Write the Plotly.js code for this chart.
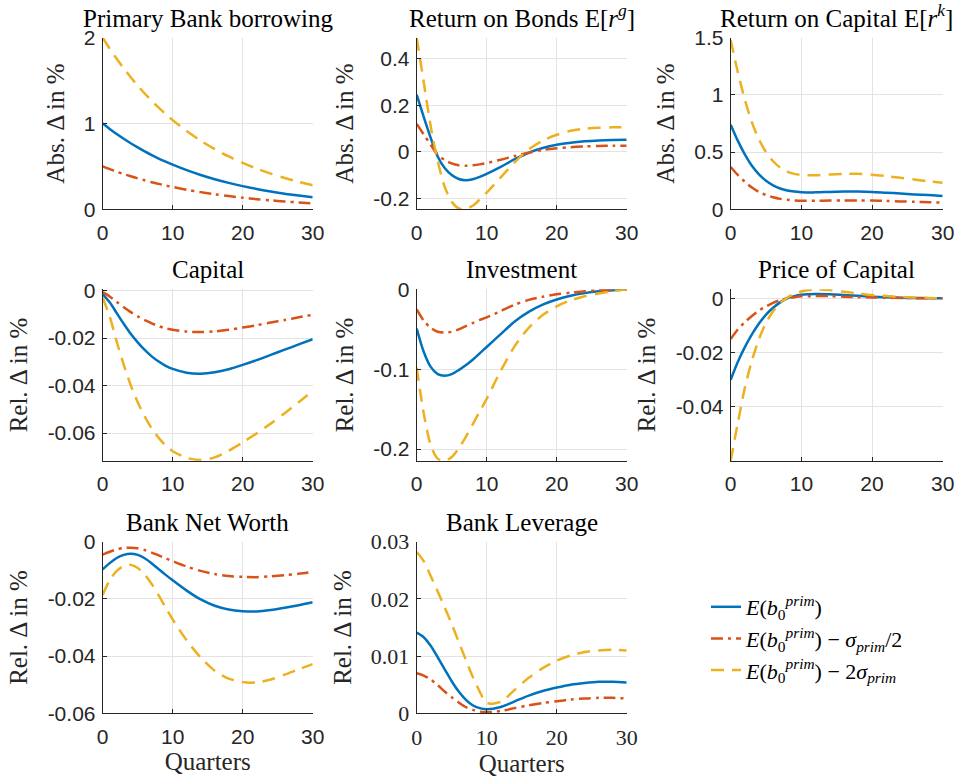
<!DOCTYPE html>
<html><head><meta charset="utf-8">
<script src="https://cdn.plot.ly/plotly-3.0.1.min.js"></script>
<style>html,body{margin:0;padding:0;background:#fff}#chart{width:964px;height:778px}</style>
</head><body><div id="chart"></div>
<script>
// ---------------- DATA ----------------
const quarters = [0,1,2,3,4,5,6,7,8,9,10,12,14,16,18,20,22,24,26,28,30];

const seriesNames = [
  '<i>E</i>(<i>b</i><sub>0</sub><sup><i>prim</i></sup>)',
  '<i>E</i>(<i>b</i><sub>0</sub><sup><i>prim</i></sup>) − <i>σ</i><sub><i>prim</i></sub>/2',
  '<i>E</i>(<i>b</i><sub>0</sub><sup><i>prim</i></sup>) − 2<i>σ</i><sub><i>prim</i></sub>'
];

const panelTitles = [
  'Primary Bank borrowing',
  'Return on Bonds E[<i>r</i><sup><i>g</i></sup>]',
  'Return on Capital E[<i>r</i><sup><i>k</i></sup>]',
  'Capital', 'Investment', 'Price of Capital',
  'Bank Net Worth', 'Bank Leverage'
];
const yLabels = ['Abs. Δ in %','Abs. Δ in %','Abs. Δ in %',
  'Rel. Δ in %','Rel. Δ in %','Rel. Δ in %','Rel. Δ in %','Rel. Δ in %'];
const xLabel = 'Quarters';

// Primary Bank borrowing
const borrowMean = [1.000,0.937,0.877,0.822,0.770,0.721,0.675,0.632,0.592,0.555,0.520,0.456,0.400,0.351,0.308,0.270,0.237,0.208,0.182,0.160,0.140];
const borrowHalf = [0.500,0.468,0.438,0.411,0.385,0.360,0.338,0.316,0.296,0.277,0.260,0.228,0.200,0.175,0.154,0.135,0.118,0.104,0.091,0.080,0.070];
const borrowTwo  = [2.000,1.873,1.754,1.643,1.539,1.442,1.350,1.264,1.184,1.109,1.039,0.912,0.800,0.702,0.616,0.540,0.474,0.416,0.365,0.320,0.281];

// Return on Bonds
const bondMean = [0.245,0.150,0.060,-0.020,-0.070,-0.100,-0.117,-0.122,-0.118,-0.108,-0.095,-0.065,-0.032,-0.004,0.016,0.030,0.039,0.045,0.049,0.051,0.052];
const bondHalf = [0.120,0.075,0.030,-0.012,-0.035,-0.050,-0.058,-0.060,-0.058,-0.054,-0.048,-0.034,-0.018,-0.004,0.008,0.015,0.020,0.023,0.025,0.026,0.026];
const bondTwo  = [0.490,0.300,0.110,-0.040,-0.150,-0.215,-0.243,-0.245,-0.232,-0.205,-0.175,-0.110,-0.045,0.010,0.048,0.073,0.090,0.099,0.103,0.105,0.105];

// Return on Capital
const rkMean = [0.740,0.600,0.480,0.380,0.305,0.250,0.210,0.182,0.165,0.155,0.150,0.148,0.152,0.155,0.155,0.152,0.145,0.138,0.130,0.124,0.117];
const rkHalf = [0.370,0.300,0.240,0.190,0.152,0.125,0.105,0.091,0.083,0.078,0.075,0.074,0.076,0.077,0.077,0.076,0.073,0.069,0.065,0.062,0.058];
const rkTwo  = [1.480,1.200,0.960,0.760,0.610,0.500,0.420,0.365,0.330,0.310,0.300,0.298,0.305,0.310,0.310,0.303,0.290,0.275,0.260,0.245,0.232];

// Capital
const capMean = [-0.0015,-0.0050,-0.0095,-0.0140,-0.0182,-0.0218,-0.0250,-0.0277,-0.0299,-0.0317,-0.0330,-0.0346,-0.0350,-0.0344,-0.0331,-0.0313,-0.0293,-0.0271,-0.0249,-0.0227,-0.0205];
const capHalf = [-0.0007,-0.0025,-0.0048,-0.0070,-0.0091,-0.0109,-0.0125,-0.0138,-0.0150,-0.0159,-0.0165,-0.0173,-0.0175,-0.0172,-0.0165,-0.0156,-0.0146,-0.0135,-0.0124,-0.0113,-0.0102];
const capTwo  = [-0.0030,-0.0110,-0.0215,-0.0312,-0.0398,-0.0470,-0.0530,-0.0580,-0.0620,-0.0652,-0.0676,-0.0704,-0.0713,-0.0702,-0.0674,-0.0639,-0.0601,-0.0560,-0.0516,-0.0470,-0.0423];

// Investment
const invMean = [-0.049,-0.078,-0.097,-0.106,-0.108,-0.106,-0.101,-0.095,-0.088,-0.080,-0.072,-0.056,-0.040,-0.028,-0.019,-0.0125,-0.0078,-0.0045,-0.0022,-0.0008,0.0];
const invHalf = [-0.025,-0.039,-0.048,-0.053,-0.054,-0.053,-0.050,-0.046,-0.042,-0.038,-0.035,-0.027,-0.019,-0.013,-0.009,-0.006,-0.004,-0.0022,-0.001,-0.0004,0.0];
const invTwo  = [-0.098,-0.155,-0.195,-0.212,-0.215,-0.210,-0.199,-0.185,-0.169,-0.153,-0.137,-0.102,-0.071,-0.048,-0.032,-0.021,-0.0135,-0.0085,-0.005,-0.002,0.0];

// Price of Capital
const qMean = [-0.0300,-0.0235,-0.0180,-0.0133,-0.0093,-0.0060,-0.0035,-0.0015,0.0000,0.0008,0.0013,0.0016,0.0015,0.0012,0.0009,0.0006,0.0004,0.0002,0.0001,0.00005,0.0];
const qHalf = [-0.0150,-0.0115,-0.0088,-0.0065,-0.0045,-0.0030,-0.0017,-0.0007,0.0000,0.0004,0.0007,0.0008,0.0008,0.0006,0.0004,0.0003,0.0002,0.0001,0.00005,0.0,0.0];
const qTwo  = [-0.0598,-0.0460,-0.0330,-0.0230,-0.0150,-0.0090,-0.0048,-0.0018,0.0002,0.0016,0.0025,0.0032,0.0030,0.0024,0.0018,0.0012,0.0008,0.0005,0.0003,0.0001,0.0];

// Bank Net Worth
const nwMean = [-0.0097,-0.0075,-0.0057,-0.0046,-0.0042,-0.0046,-0.0058,-0.0076,-0.0096,-0.0116,-0.0135,-0.0171,-0.0202,-0.0224,-0.0237,-0.0243,-0.0244,-0.0239,-0.0231,-0.0222,-0.0212];
const nwHalf = [-0.0045,-0.0035,-0.0027,-0.0022,-0.0021,-0.0023,-0.0029,-0.0038,-0.0048,-0.0058,-0.0068,-0.0087,-0.0102,-0.0113,-0.0120,-0.0123,-0.0124,-0.0121,-0.0117,-0.0112,-0.0106];
const nwTwo  = [-0.0186,-0.0135,-0.0102,-0.0085,-0.0081,-0.0092,-0.0115,-0.0148,-0.0188,-0.0231,-0.0272,-0.0345,-0.0405,-0.0451,-0.0479,-0.0491,-0.0492,-0.0482,-0.0465,-0.0446,-0.0428];

// Bank Leverage
const levMean = [0.0141,0.0133,0.0118,0.0098,0.0077,0.0056,0.0038,0.0024,0.0014,0.0009,0.0007,0.0011,0.0021,0.0031,0.0039,0.0045,0.0050,0.0053,0.0055,0.0055,0.0054];
const levHalf = [0.0070,0.0066,0.0059,0.0049,0.0038,0.0028,0.0019,0.0011,0.0006,0.0003,0.0002,0.0004,0.0009,0.0014,0.0018,0.0021,0.0024,0.0026,0.0027,0.0027,0.0026];
const levTwo  = [0.0282,0.0266,0.0240,0.0213,0.0185,0.0156,0.0125,0.0094,0.0064,0.0038,0.0018,0.0020,0.0041,0.0062,0.0079,0.0092,0.0101,0.0107,0.0110,0.0111,0.0110];

// Tick labels
const xTicks = [0,10,20,30];
const xTickText = ['0','10','20','30'];
const yTicks = [
  [0,1,2],
  [-0.2,0,0.2,0.4],
  [0,0.5,1,1.5],
  [-0.06,-0.04,-0.02,0],
  [-0.2,-0.1,0],
  [-0.04,-0.02,0],
  [-0.06,-0.04,-0.02,0],
  [0,0.01,0.02,0.03]
];
const yTickText = [
  ['0','1','2'],
  ['-0.2','0','0.2','0.4'],
  ['0','0.5','1','1.5'],
  ['-0.06','-0.04','-0.02','0'],
  ['-0.2','-0.1','0'],
  ['-0.04','-0.02','0'],
  ['-0.06','-0.04','-0.02','0'],
  ['0','0.01','0.02','0.03']
];

const panelSeries = [
  [borrowMean, borrowHalf, borrowTwo],
  [bondMean, bondHalf, bondTwo],
  [rkMean, rkHalf, rkTwo],
  [capMean, capHalf, capTwo],
  [invMean, invHalf, invTwo],
  [qMean, qHalf, qTwo],
  [nwMean, nwHalf, nwTwo],
  [levMean, levHalf, levTwo]
];

// ---------------- STYLE / LAYOUT ----------------
const colors = ['#0072BD','#D95319','#EDB120'];
const dashes = ['solid','12px,5px,3px,5px','13px,8px'];
const yRanges = [[0,2],[-0.247,0.49],[0,1.5],[-0.0716,0.0005],[-0.2146,0.0003],[-0.0598,0.0033],[-0.06,0],[0,0.03]];

const W = 964, H = 778;
const colPx = [[102.7,312.7],[416.7,626.7],[730.7,942.7]];
const rowPx = [[37.7,209.3],[289.3,460.7],[541.7,713.3]];

const serif = '"Liberation Serif"';
const sans = '"Liberation Sans"';
const ink = '#262626';

const traces = [];
const layout = {
  width: W, height: H,
  margin: {l:0, r:0, t:0, b:0},
  paper_bgcolor: '#ffffff', plot_bgcolor: '#ffffff',
  showlegend: true,
  legend: {
    x: 706/W, y: 1 - 586/H, xanchor: 'left', yanchor: 'top',
    bgcolor: 'rgba(0,0,0,0)', borderwidth: 0,
    font: {family: serif, size: 22, color: '#000'},
    tracegroupgap: 0
  },
  annotations: []
};

for (let p = 0; p < 8; p++) {
  const r = Math.floor(p / 3), c = p % 3;
  const ax = p === 0 ? '' : String(p + 1);
  const xd = [colPx[c][0]/W, colPx[c][1]/W];
  const yd = [1 - rowPx[r][1]/H, 1 - rowPx[r][0]/H];
  const tickFamily = p === 7 ? serif : sans;
  const tickSize = p === 7 ? 22 : 21;
  const xa = {
    domain: xd, anchor: 'y' + ax, range: [0, 30],
    tickmode: 'array', tickvals: xTicks, ticktext: xTickText,
    showgrid: true, gridcolor: '#e3e3e3', gridwidth: 1, zeroline: false,
    showline: true, linecolor: ink, linewidth: 1, mirror: false,
    ticks: 'inside', ticklen: 4, tickcolor: ink,
    tickfont: {family: tickFamily, size: tickSize, color: ink},
    ticklabelstandoff: 4
  };
  if (r === 2) xa.title = {text: xLabel, font: {family: serif, size: 25, color: ink}, standoff: 4};
  layout['xaxis' + ax] = xa;
  layout['yaxis' + ax] = {
    domain: yd, anchor: 'x' + ax, range: yRanges[p],
    tickmode: 'array', tickvals: yTicks[p], ticktext: yTickText[p],
    showgrid: true, gridcolor: '#e3e3e3', gridwidth: 1, zeroline: false,
    showline: true, linecolor: ink, linewidth: 1, mirror: false,
    ticks: 'inside', ticklen: 4, tickcolor: ink,
    tickfont: {family: tickFamily, size: tickSize, color: ink},
    ticklabelstandoff: 2,
    title: {text: yLabels[p], font: {family: serif, size: 25, color: ink}, standoff: 12}
  };
  layout.annotations.push({
    text: panelTitles[p], xref: 'paper', yref: 'paper',
    x: (xd[0] + xd[1]) / 2, y: yd[1], xanchor: 'center', yanchor: 'bottom',
    yshift: 4, showarrow: false,
    font: {family: serif, size: 25, color: '#000'}
  });
  for (let s = 0; s < 3; s++) {
    traces.push({
      type: 'scatter', mode: 'lines',
      x: quarters, y: panelSeries[p][s],
      xaxis: 'x' + ax, yaxis: 'y' + ax,
      name: seriesNames[s], legendgroup: 'g' + s,
      showlegend: p === 0,
      line: {color: colors[s], width: 2.5, dash: dashes[s], shape: 'spline', smoothing: 0.8},
      hoverinfo: 'skip'
    });
  }
}

Plotly.newPlot('chart', traces, layout, {staticPlot: true, displayModeBar: false});
</script></body></html>
